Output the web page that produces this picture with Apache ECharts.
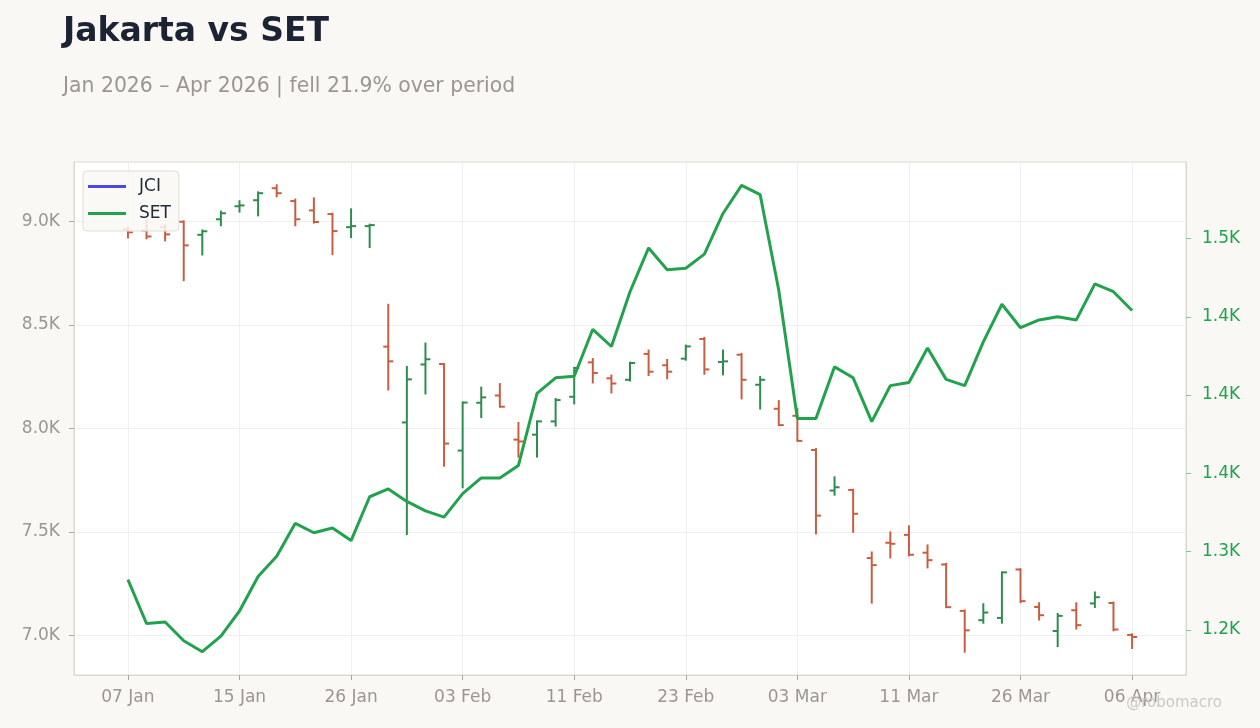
<!DOCTYPE html>
<html lang="en">
<head>
<meta charset="UTF-8">
<title>Jakarta vs SET</title>
<script src="https://cdn.jsdelivr.net/npm/echarts@6.0.0/dist/echarts.min.js"></script>
<style>
  html, body { margin: 0; padding: 0; background: #f9f8f5; }
  #main { width: 1260px; height: 728px; }
</style>
</head>
<body>
<div id="main"></div>
<script>
// trading days
var dates = ['07 Jan','08 Jan','09 Jan','12 Jan','13 Jan','14 Jan','15 Jan','19 Jan','20 Jan','21 Jan',
  '22 Jan','23 Jan','26 Jan','27 Jan','28 Jan','29 Jan','30 Jan','02 Feb','03 Feb','04 Feb',
  '05 Feb','06 Feb','09 Feb','10 Feb','11 Feb','12 Feb','13 Feb','18 Feb','19 Feb','20 Feb',
  '23 Feb','24 Feb','25 Feb','26 Feb','27 Feb','02 Mar','03 Mar','04 Mar','05 Mar','06 Mar',
  '09 Mar','10 Mar','11 Mar','12 Mar','13 Mar','16 Mar','17 Mar','25 Mar','26 Mar','27 Mar',
  '30 Mar','31 Mar','01 Apr','02 Apr','06 Apr'];

// JCI OHLC
var jciOpen  = [8961,8956,8971,8998,8935,9010,9073,9102,9160,9098,9053,9035,8972,8977,8395,8029,8309,8311,7893,8124,
  8159,7946,7970,8034,8153,8319,8242,8235,8360,8305,8337,8432,8321,8356,8211,8095,8061,7896,7700,7703,
  7374,7448,7486,7400,7343,7119,7074,7085,7319,7138,7022,7122,7155,7157,7003];
var jciHigh  = [8971,9005,8981,9000,8956,9047,9097,9140,9174,9105,9111,9037,9058,8984,8597,8297,8410,8311,8125,8197,
  8214,8026,8034,8142,8293,8335,8255,8317,8376,8331,8400,8437,8376,8360,8248,8132,8093,7900,7764,7704,
  7401,7498,7527,7435,7346,7121,7151,7305,7320,7156,7104,7156,7208,7159,7006];
var jciLow   = [8923,8918,8908,8716,8840,8981,9047,9029,9121,8981,8994,8842,8924,8876,8188,7490,8169,7820,7716,8055,
  8105,7864,7864,8014,8121,8222,8174,8232,8258,8242,8332,8264,8261,8145,8096,8016,7940,7493,7680,7501,
  7159,7377,7387,7329,7137,6922,7062,7062,7161,7077,6949,7034,7138,7025,6940];
var jciClose = [8947,8927,8937,8884,8952,9039,9077,9136,9136,9010,8997,8953,8977,8982,8324,8237,8334,7927,8125,8150,
  8105,7937,8034,8137,8292,8268,8217,8316,8274,8274,8396,8285,8324,8235,8235,8016,7940,7579,7716,7588,
  7340,7443,7390,7364,7137,7025,7111,7305,7166,7098,7095,7050,7185,7029,6993];

// SET close
var setClose = [1282,1254,1255,1243,1236,1246,1262,1284,1297,1318,1312,1315,1307,1335,1340,1332,1326,1322,1337,1347,
  1347,1355,1401,1411,1412,1442,1431,1466,1494,1480,1481,1490,1516,1534,1528,1467,1385,1385,1418,1411,
  1383,1406,1408,1430,1410,1406,1434,1458,1443,1448,1450,1448,1471,1466,1454];

var xTicks = [0,6,12,18,24,30,36,42,48,54];
var jciTicks = [7000,7500,8000,8500,9000];
var setTicks = [1250,1300,1350,1400,1450,1500];

var upColor = '#2f8c50';
var downColor = '#c95d40';
var setColor = '#22a24d';
var gridColor = '#efefef';
var borderColor = '#ddd8d0';
var labelColor = '#9b968f';

var ohlc = dates.map(function (d, i) {
  return [i, jciOpen[i], jciHigh[i], jciLow[i], jciClose[i]];
});
var setLine = dates.map(function (d, i) { return [i, setClose[i]]; });

function halfEvenK(v) {
  var t = v / 100;
  var r = Math.round(t);
  if (Math.abs(t - Math.trunc(t)) === 0.5) r = 2 * Math.round(t / 2);
  return (r / 10).toFixed(1) + 'K';
}

function renderOhlc(params, api) {
  var x = api.value(0);
  var o = api.coord([x, api.value(1)]);
  var h = api.coord([x, api.value(2)]);
  var l = api.coord([x, api.value(3)]);
  var c = api.coord([x, api.value(4)]);
  var color = api.value(4) >= api.value(1) ? upColor : downColor;
  var st = { stroke: color, lineWidth: 2 };
  return {
    type: 'group',
    children: [
      { type: 'line', shape: { x1: h[0], y1: h[1] - 1, x2: l[0], y2: l[1] + 1 }, style: st },
      { type: 'line', shape: { x1: o[0] - 5, y1: o[1], x2: o[0], y2: o[1] }, style: st },
      { type: 'line', shape: { x1: c[0], y1: c[1], x2: c[0] + 5, y2: c[1] }, style: st }
    ]
  };
}

function padMin(v) { return v.min - (v.max - v.min) * 0.05; }
function padMax(v) { return v.max + (v.max - v.min) * 0.05; }

var chart = echarts.init(document.getElementById('main'));
chart.setOption({
  backgroundColor: '#f9f8f5',
  textStyle: { fontFamily: 'DejaVu Sans, sans-serif' },
  title: [
    { text: 'Jakarta vs SET', left: 58, top: 11,
      textStyle: { fontSize: 33, fontWeight: 'bold', color: '#1c2333' } },
    { text: 'Jan 2026 – Apr 2026 | fell 21.9% over period', left: 58, top: 72,
      textStyle: { fontSize: 20.4, fontWeight: 'normal', color: '#9b968f' } },
    { text: '@robomacro', right: 33, bottom: 12,
      textStyle: { fontSize: 15, fontWeight: 'normal', color: '#cdc9c3' } }
  ],
  legend: {
    orient: 'vertical',
    left: 83, top: 171,
    padding: [7, 8, 9, 5],
    itemGap: 10,
    itemWidth: 38, itemHeight: 3,
    backgroundColor: 'rgba(249,248,245,0.85)',
    borderColor: '#e2ddd5', borderWidth: 1, borderRadius: 4,
    textStyle: { fontSize: 17, color: '#1f2937', padding: [0, 0, 0, 8] },
    data: [{ name: 'JCI', icon: 'rect' }, { name: 'SET', icon: 'rect' }]
  },
  grid: {
    left: 74, right: 74, top: 162, bottom: 53,
    containLabel: false,
    show: true, backgroundColor: '#ffffff', borderColor: borderColor, borderWidth: 1
  },
  xAxis: {
    type: 'value',
    min: -2.9, max: 56.9,
    axisLine: { show: true, onZero: false, lineStyle: { color: borderColor } },
    axisTick: { show: true, length: 5, customValues: xTicks, lineStyle: { color: '#aaa59e' } },
    axisLabel: { customValues: xTicks, margin: 14, fontSize: 17, color: labelColor,
      formatter: function (v) { return dates[v]; } },
    splitLine: { show: true, lineStyle: { color: gridColor } }
  },
  yAxis: [
    {
      type: 'value', position: 'left',
      min: padMin, max: padMax,
      axisLine: { show: true, onZero: false, lineStyle: { color: borderColor } },
      axisTick: { show: true, length: 5, customValues: jciTicks, lineStyle: { color: '#aaa59e' } },
      axisLabel: { customValues: jciTicks, margin: 14, fontSize: 17, color: labelColor,
        formatter: function (v) { return (v / 1000).toFixed(1) + 'K'; } },
      splitLine: { show: true, lineStyle: { color: gridColor } }
    },
    {
      type: 'value', position: 'right',
      min: padMin, max: padMax,
      axisLine: { show: true, onZero: false, lineStyle: { color: borderColor } },
      axisTick: { show: true, length: 5, customValues: setTicks, lineStyle: { color: '#7cc793' } },
      axisLabel: { customValues: setTicks, margin: 16, fontSize: 17, color: setColor,
        formatter: halfEvenK },
      splitLine: { show: false }
    }
  ],
  series: [
    {
      name: 'JCI', type: 'custom', yAxisIndex: 0,
      itemStyle: { color: '#5046e6' },
      encode: { x: 0, y: [1, 2, 3, 4] },
      renderItem: renderOhlc,
      data: ohlc, z: 2
    },
    {
      name: 'SET', type: 'line', yAxisIndex: 1,
      data: setLine, showSymbol: false, symbol: 'none',
      lineStyle: { color: setColor, width: 3 },
      itemStyle: { color: setColor },
      z: 3
    }
  ]
});
</script>
</body>
</html>
